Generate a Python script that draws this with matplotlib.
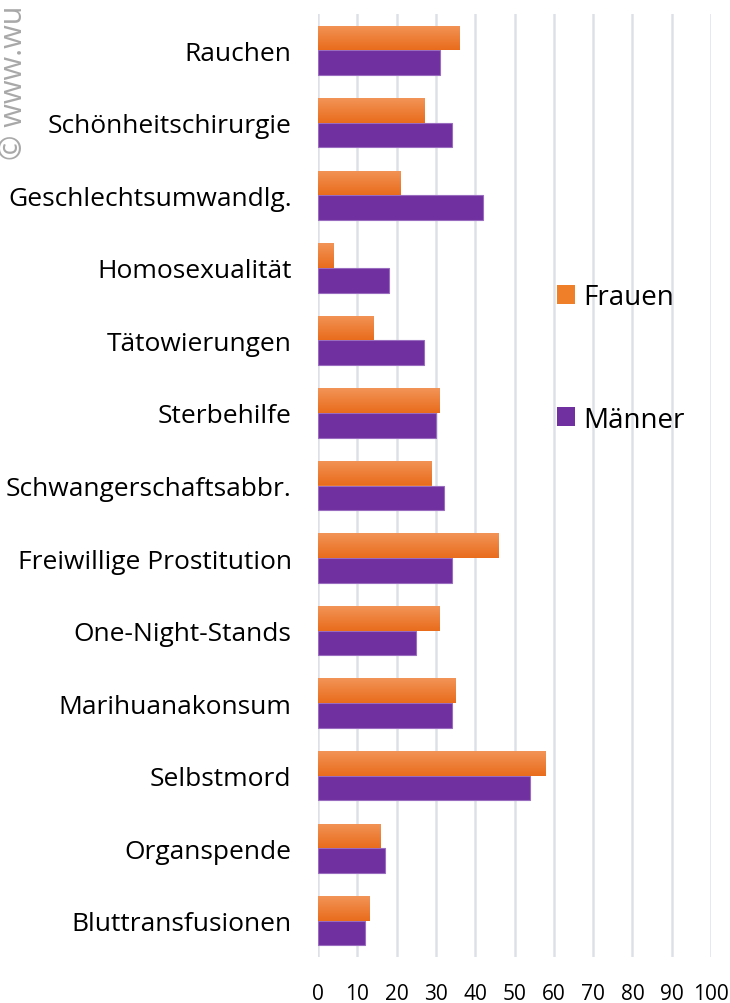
import matplotlib
matplotlib.use("Agg")
import matplotlib.pyplot as plt
import numpy as np
from matplotlib.colors import LinearSegmentedColormap
from matplotlib.patches import Patch

categories = ["Rauchen", "Schönheitschirurgie", "Geschlechtsumwandlg.", "Homosexualität",
              "Tätowierungen", "Sterbehilfe", "Schwangerschaftsabbr.", "Freiwillige Prostitution",
              "One-Night-Stands", "Marihuanakonsum", "Selbstmord", "Organspende", "Bluttransfusionen"]
frauen = [36, 27, 21, 4, 14, 31, 29, 46, 31, 35, 58, 16, 13]
maenner = [31, 34, 42, 18, 27, 30, 32, 34, 25, 34, 54, 17, 12]
xticks = list(range(0, 101, 10))

plt.rcParams['font.family'] = ['Open Sans', 'DejaVu Sans']

fig = plt.figure(figsize=(7.3, 10.04), dpi=100)
ax = fig.add_axes([318/730, 1-958/1004, (711-318)/730, 943/1004])

y = np.arange(len(categories))
h = 0.34
bars_f = ax.barh(y - h/2, frauen, height=h, color="#F07F2A", zorder=3, label="Frauen")
bars_m = ax.barh(y + h/2, maenner, height=h, color="#7030A0", edgecolor="#9a6cc0",
                 linewidth=0.8, zorder=3, label="Männer")

# gradient on orange bars
cmap = LinearSegmentedColormap.from_list("og", ["#F29457", "#E96C1C"])
grad = np.linspace(0, 1, 64).reshape(-1, 1)
for b in bars_f:
    x0, y0 = b.get_x(), b.get_y()
    w, hh = b.get_width(), b.get_height()
    im = ax.imshow(grad, cmap=cmap, aspect="auto", extent=[x0, x0 + w, y0 + hh, y0],
                   zorder=3.5, origin="upper")
    im.set_clip_path(b)

ax.set_xlim(0, 100)
ax.set_ylim(len(categories) - 0.5, -0.5)
ax.set_xticks(xticks)
ax.set_xticklabels([str(t) for t in xticks])
ax.set_yticks(y)
ax.set_yticklabels(categories)
ax.tick_params(axis="both", length=0, colors="#000000")
ax.tick_params(axis="y", pad=19, labelsize=19)
ax.tick_params(axis="x", pad=19, labelsize=15)
for s in ax.spines.values():
    s.set_visible(False)
ax.grid(axis="x", color="#DDE1E7", linewidth=1.8, zorder=0)
ax.set_axisbelow(True)

handles = [Patch(facecolor="#F07F2A", edgecolor="none"), Patch(facecolor="#7030A0", edgecolor="none")]
leg = ax.legend(handles, ["Frauen", "Männer"], loc="center left",
                bbox_to_anchor=((557-318)/(711-318), 1-(359 - 14.7)/943),
                frameon=False, fontsize=20, handlelength=0.65, handleheight=0.65,
                handletextpad=0.3, labelspacing=3.4, borderaxespad=0, borderpad=0)

fig.text(14/730, 1-160/1004, "© www.wu", rotation=90, ha="center", va="bottom",
         fontsize=22, color="#A8A8A8")

fig.savefig("out.png", dpi=100)
